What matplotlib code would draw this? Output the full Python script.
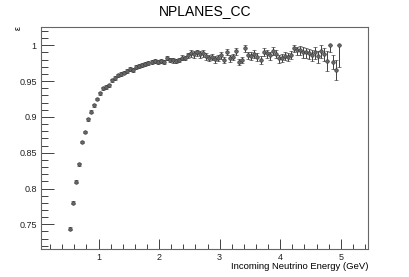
import numpy as np
import matplotlib
matplotlib.use('Agg')
import matplotlib.pyplot as plt
from matplotlib.ticker import MultipleLocator

plt.rcParams['font.family'] = ['Liberation Sans', 'DejaVu Sans']

# efficiency vs incoming neutrino energy, 0.05 GeV bins
energy = np.arange(90) * 0.05 + 0.525
eff = [0.744, 0.780, 0.8095, 0.834, 0.865, 0.879, 0.897, 0.907, 0.916, 0.925,
       0.933, 0.940, 0.942, 0.944, 0.951, 0.954, 0.958, 0.960, 0.962, 0.964,
       0.967, 0.966, 0.970, 0.971, 0.973, 0.974, 0.975, 0.977, 0.978, 0.977,
       0.978, 0.977, 0.982, 0.980, 0.979, 0.978, 0.980, 0.983, 0.982, 0.986,
       0.989, 0.988, 0.990, 0.988, 0.989, 0.985, 0.983, 0.984, 0.981, 0.983,
       0.986, 0.980, 0.991, 0.982, 0.984, 0.992, 0.977, 0.980, 0.996, 0.986,
       0.985, 0.988, 0.984, 0.980, 0.991, 0.989, 0.986, 0.992, 0.988, 0.982,
       0.983, 0.985, 0.984, 0.987, 0.996, 0.993, 0.994, 0.991, 0.990, 0.989,
       0.987, 0.990, 0.985, 0.992, 0.988, 0.978, 1.000, 0.977, 0.966, 1.000]
err_lo = [0.002]*10 + [0.0025]*10 + [0.003]*20 + [0.005]*20 + [0.006]*15 + \
         [0.007, 0.007, 0.008, 0.008, 0.008, 0.009, 0.009, 0.009, 0.010, 0.010,
          0.014, 0.009, 0.010, 0.014, 0.030]
err_hi = [0.002]*10 + [0.0025]*10 + [0.003]*20 + [0.004]*20 + [0.005]*15 + \
         [0.005, 0.005, 0.006, 0.006, 0.006, 0.007, 0.007, 0.007, 0.008, 0.008,
          0.014, 0.000, 0.010, 0.014, 0.000]

fig = plt.figure(figsize=(4.09, 2.77), dpi=100)
ax = fig.add_axes([0.1002, 0.101, 0.7996, 0.8015])
ax.errorbar(energy, eff, yerr=[err_lo, err_hi], fmt='o', ms=2.6, mfc='#666666',
            mec='#333333', mew=0.4, ecolor='#222222', elinewidth=0.6,
            capsize=1.3, capthick=0.6)

ax.set_xlim(0.05, 5.45)
ax.set_ylim(0.7155, 1.0256)
ax.xaxis.set_major_locator(MultipleLocator(1))
ax.xaxis.set_minor_locator(MultipleLocator(0.2))
ax.yaxis.set_major_locator(MultipleLocator(0.05))
ax.yaxis.set_minor_locator(MultipleLocator(0.01))
ax.tick_params(which='both', direction='in', top=False, right=False,
               labelsize=6.5, pad=3, colors='#222222', width=0.6)
ax.tick_params(axis='y', which='major', length=9)
ax.tick_params(axis='y', which='minor', length=5)
ax.tick_params(axis='x', which='major', length=7)
ax.tick_params(axis='x', which='minor', length=3.5)
ax.set_yticks([0.75, 0.8, 0.85, 0.9, 0.95, 1.0])
ax.set_yticklabels(['0.75', '0.8', '0.85', '0.9', '0.95', '1'])
for s in ax.spines.values():
    s.set_color('#666666')
    s.set_linewidth(0.8)

ax.set_xlabel('Incoming Neutrino Energy (GeV)', fontsize=6.8, ha='right', x=1.0, labelpad=0)
fig.text(0.044, 0.898, '\u03b5', rotation=90, ha='center', va='center', fontsize=6.5)
fig.text(0.501, 0.962, 'NPLANES_CC', ha='center', va='center', fontsize=10)

fig.savefig('out.png', dpi=100)
